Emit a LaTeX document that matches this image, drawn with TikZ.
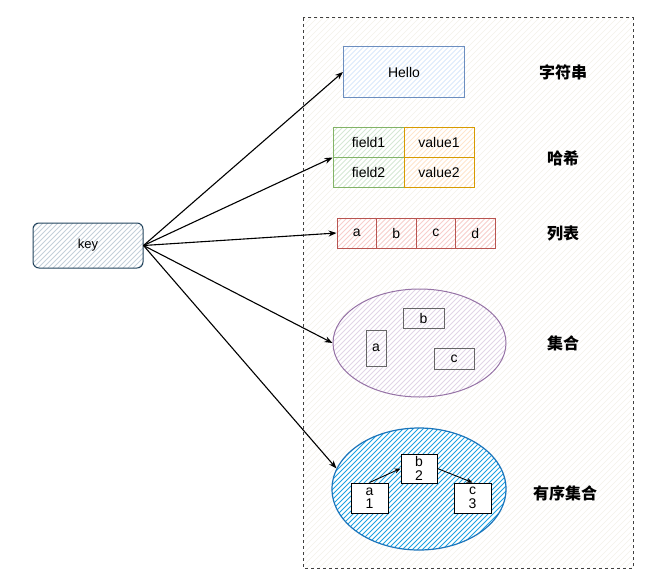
\documentclass[tikz,border=0pt]{standalone}
\usepackage{fontspec}
\setmainfont{Liberation Sans}
\newfontfamily\cjk{Noto Sans CJK SC}
\usetikzlibrary{arrows.meta, shapes.geometric}

\definecolor{keyline}{HTML}{23445D}
\definecolor{keyfill}{HTML}{BAC8D3}
\definecolor{strline}{HTML}{6C8EBF}
\definecolor{strfill}{HTML}{DAE8FC}
\definecolor{fieldline}{HTML}{82B366}
\definecolor{fieldfill}{HTML}{D5E8D4}
\definecolor{valline}{HTML}{D79B00}
\definecolor{valfill}{HTML}{FFE6CC}
\definecolor{listline}{HTML}{B85450}
\definecolor{listfill}{HTML}{F8CECC}
\definecolor{setline}{HTML}{9673A6}
\definecolor{setfill}{HTML}{E1D5E7}
\definecolor{zsetline}{HTML}{1B75BB}
\definecolor{zsetfill}{HTML}{1BA1E2}
\definecolor{boxline}{HTML}{666666}
\definecolor{framefill}{HTML}{F3F2EA}

\begin{document}
\begin{tikzpicture}[x=1pt, y=-1pt,
	hatch/.style={fill=white, path picture={
		\foreach \d in {-130,-125,...,180}
			\draw[draw=#1, line width=0.8pt] ([xshift=\d pt]path picture bounding box.south west) -- ++(130,-130);}},
	cell/.style={draw, line width=1pt, inner sep=0pt, font=\fontsize{14}{15}\selectfont},
	tag/.style={font=\cjk\bfseries\fontsize{16}{18}\selectfont},
	link/.style={-{Stealth[length=8pt,width=6pt]}, line width=1.1pt}]
	\useasboundingbox (0,0) rectangle (668,586);
	
	%frame
	\path[fill=white] (303,18) rectangle (633,568);
	\begin{scope}
		\clip (303,18) rectangle (633,568);
		\foreach \d in {-560,-554,...,340}
			\draw[draw=framefill, line width=0.6pt] (303+\d,568) -- ++(560,-560);
	\end{scope}
	\draw[black!75, dashed, line width=1pt] (303,18) rectangle (633,568);
	
	%key
	\node[cell, draw=keyline, hatch=keyfill!85, rounded corners=6pt, minimum width=110pt, minimum height=45pt, font=\fontsize{13}{15}\selectfont] (key) at (88,245.5) {key};
	
	%string
	\node[cell, draw=strline, hatch=strfill, minimum width=121pt, minimum height=50pt] (hello) at (404,72) {Hello};
	
	%hash
	\node[cell, draw=fieldline, hatch=fieldfill, minimum width=71pt, minimum height=30pt] (field1) at (368.5,142) {field1};
	\node[cell, draw=valline, hatch=valfill, minimum width=70pt, minimum height=30pt] (value1) at (439,142) {value1};
	\node[cell, draw=fieldline, hatch=fieldfill, minimum width=71pt, minimum height=30pt] (field2) at (368.5,172.5) {field2};
	\node[cell, draw=valline, hatch=valfill, minimum width=70pt, minimum height=30pt] (value2) at (439,172.5) {value2};
	
	%list
	\node[cell, draw=listline, hatch=listfill, minimum width=39.5pt, minimum height=30pt] (la) at (356.75,233) {a};
	\node[cell, draw=listline, hatch=listfill, minimum width=39.5pt, minimum height=30pt] (lb) at (396.25,233) {b};
	\node[cell, draw=listline, hatch=listfill, minimum width=39.5pt, minimum height=30pt] (lc) at (435.75,233) {c};
	\node[cell, draw=listline, hatch=listfill, minimum width=39.5pt, minimum height=30pt] (ld) at (475.25,233) {d};
	
	%set
	\node[ellipse, draw=setline, line width=1pt, hatch=setfill, minimum width=173pt, minimum height=108pt] (set) at (419.5,343) {};
	\node[cell, draw=boxline, minimum width=20pt, minimum height=36pt] (sa) at (376,348) {a};
	\node[cell, draw=boxline, minimum width=41pt, minimum height=20pt] (sb) at (423.5,318) {b};
	\node[cell, draw=boxline, minimum width=40pt, minimum height=21pt] (sc) at (454,358.5) {c};
	
	%sorted set
	\node[ellipse, draw=zsetline, line width=1.2pt, hatch=zsetfill, minimum width=174pt, minimum height=122pt] (zset) at (419,489) {};
	\node[cell, draw=black, fill=white, align=center, minimum width=37pt, minimum height=30pt, font=\fontsize{14}{13.5}\selectfont] (za) at (369.5,498) {a\\1};
	\node[cell, draw=black, fill=white, align=center, minimum width=36pt, minimum height=29pt, font=\fontsize{14}{13.5}\selectfont] (zb) at (419,468.5) {b\\2};
	\node[cell, draw=black, fill=white, align=center, minimum width=37pt, minimum height=30pt, font=\fontsize{14}{13.5}\selectfont] (zc) at (472.5,498) {c\\3};
	\draw[-{Stealth[length=6pt,width=5pt]}, line width=0.9pt] (za.north) -- (zb.west);
	\draw[-{Stealth[length=6pt,width=5pt]}, line width=0.9pt] (zb.east) -- (zc.north);
	
	%main arrows
	\draw[link] (key.east) -- (hello.west);
	\draw[link] (key.east) -- (field1.south west);
	\draw[link] (key.east) -- (la.west);
	\draw[link] (key.east) -- (set.west);
	\draw[link] (key.east) -- (zset.166);
	
	%labels
	\node[tag] (tstr) at (563,72) {字符串};
	\node[tag] (thash) at (563,158) {哈希};
	\node[tag] (tlist) at (563,233) {列表};
	\node[tag] (tset) at (563,343) {集合};
	\node[tag] (tzset) at (565,493) {有序集合};
\end{tikzpicture}
\end{document}
